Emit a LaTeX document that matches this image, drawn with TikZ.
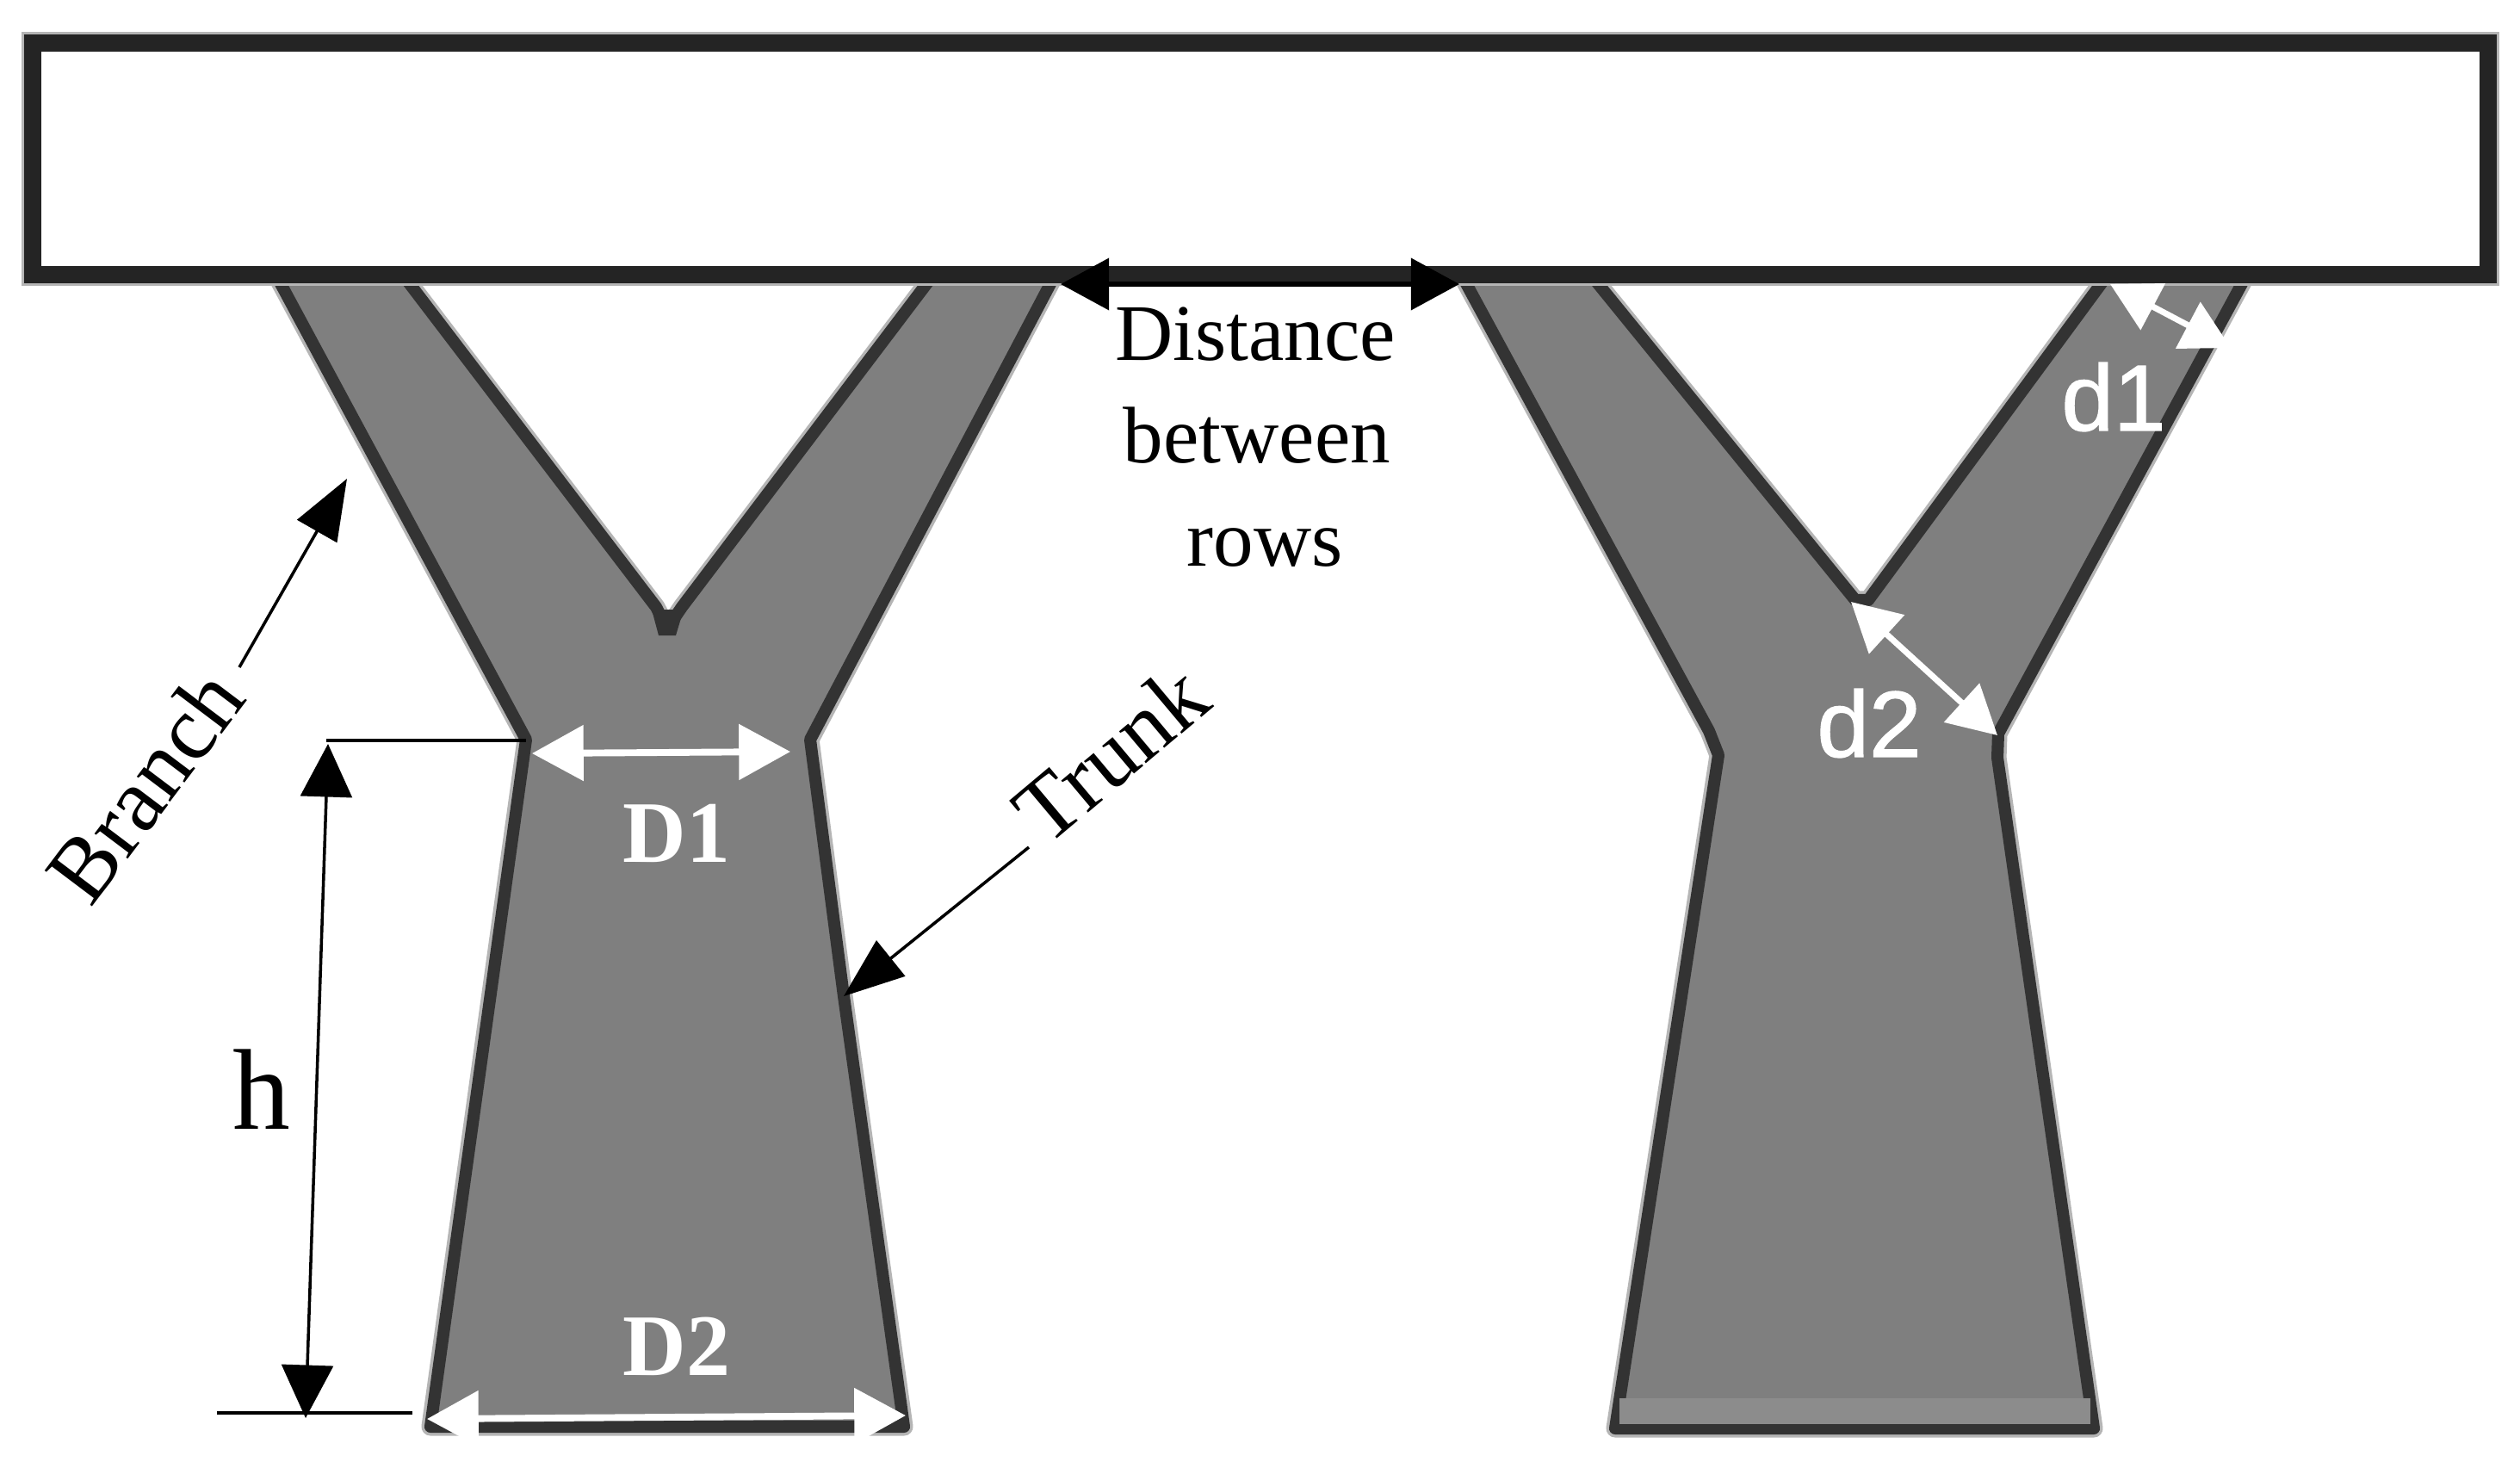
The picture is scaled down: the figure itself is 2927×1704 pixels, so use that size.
\documentclass[tikz,border=0pt]{standalone}
\usepackage{fontspec}
\setmainfont{Liberation Serif}
\newfontfamily\labelsans[FakeBold=1.2]{Liberation Sans}
\usetikzlibrary{arrows.meta}
\definecolor{treefill}{HTML}{7F7F7F}
\definecolor{treeedge}{HTML}{333333}
\definecolor{treehalo}{HTML}{B5B5B5}
\tikzset{
  x=0.02cm,y=-0.02cm,
  treeshape/.style={fill=treefill,draw=treeedge,line width=8pt,line join=round,
    preaction={draw=treehalo,line width=12pt,line join=round}},
  barshape/.style={fill=white,draw=treeedge!70!black,line width=11pt,line join=miter,
    preaction={draw=treehalo,line width=15pt}},
  blackdim/.style={draw=black,line width=2pt,{Triangle[length=35pt,width=34pt]}-{Triangle[length=35pt,width=34pt]}},
  distdim/.style={draw=black,line width=3pt,{Triangle[length=32pt,width=34pt]}-{Triangle[length=32pt,width=34pt]}},
  pointer/.style={draw=black,line width=2pt,-{Triangle[length=40pt,width=30pt]}},
  extline/.style={draw=black,line width=2.6pt},
  whitedim/.style={draw=white,line width=4.5pt,{Triangle[length=34pt,width=36pt]}-{Triangle[length=34pt,width=36pt]}},
  whitedimsmall/.style={draw=white,line width=4pt,{Triangle[length=32pt,width=34pt]}-{Triangle[length=32pt,width=34pt]}},
  serif label/.style={font=\fontsize{53}{60}\selectfont,text=black,inner sep=0pt},
  rot label/.style={font=\fontsize{60}{64}\selectfont,text=black,inner sep=0pt},
  white serif/.style={font=\fontsize{58}{60}\selectfont\bfseries,text=white,inner sep=0pt},
  white sans/.style={font=\labelsans\fontsize{62}{64}\selectfont,text=white,inner sep=0pt},
}
\begin{document}
\begin{tikzpicture}
\useasboundingbox (0,0) rectangle (2927,1704);
\fill[white] (0,0) rectangle (2927,1704);

% left tree
\path[treeshape] (322,322) -- (611,859) -- (500,1657)
  -- (1050,1657) -- (980,1157) -- (941,859) -- (1224,322) -- (1082,322)
  -- (792,705) -- (775,730) -- (762,705) -- (470,322) -- cycle;
\fill[treeedge] (757,708) -- (794,708) -- (785,738) -- (765,738) -- cycle;
% right tree
\path[treeshape] (1699,322) -- (1985,849) -- (1996,877) -- (1876,1659)
  -- (2432,1659) -- (2320,880) -- (2321,852) -- (2608,322) -- (2446,322)
  -- (2170,697) -- (2155,697) -- (1850,322) -- cycle;
\fill[treefill!90!white] (1881,1624) rectangle (2428,1654);

% top bar
\path[barshape] (38,50) rectangle (2890,319);

% anchor points
\coordinate (distL) at (1232,330);
\coordinate (distR) at (1695,330);
\coordinate (branchTail) at (278,775);
\coordinate (branchTip) at (403,556);
\coordinate (trunkTail) at (1195,984);
\coordinate (trunkTip) at (980,1157);
\coordinate (hTop) at (381,864);
\coordinate (hBot) at (355,1647);
\coordinate (extTopA) at (379,860);
\coordinate (extTopB) at (611,860);
\coordinate (extBotA) at (252,1641);
\coordinate (extBotB) at (479,1641);
\coordinate (dOneL) at (618,875);
\coordinate (dOneR) at (918,873);
\coordinate (dTwoL) at (496,1648);
\coordinate (dTwoR) at (1052,1644);
\coordinate (smallOneA) at (2451,330);
\coordinate (smallOneB) at (2591,404);
\coordinate (smallTwoA) at (2150,699);
\coordinate (smallTwoB) at (2320,854);

% connectors
\draw[distdim] (distL) -- (distR);
\draw[pointer] (branchTail) -- (branchTip);
\draw[pointer] (trunkTail) -- (trunkTip);
\draw[extline] (extTopA) -- (extTopB);
\draw[extline] (extBotA) -- (extBotB);
\draw[blackdim] (hTop) -- (hBot);
\draw[whitedim] (dOneL) -- (dOneR);
\draw[whitedim] (dTwoL) -- (dTwoR);
\draw[whitedimsmall] (smallOneA) -- (smallOneB);
\draw[whitedimsmall] (smallTwoA) -- (smallTwoB);

% labels
\node[serif label] (lblDist) at (1458,388) {Distance};
\node[serif label] (lblBetween) at (1460,506) {between};
\node[serif label] (lblRows) at (1469,636) {rows};
\node[rot label,rotate=53] (lblBranch) at (168,912) {Branch};
\node[rot label,rotate=40] (lblTrunk) at (1290,875) {Trunk};
\node[font=\fontsize{76}{80}\selectfont,inner sep=0pt] (lblH) at (304,1265) {h};
\node[white serif] (lblDOne) at (786,968) {D1};
\node[white serif] (lblDTwo) at (786,1564) {D2};
\node[white sans] (lblSOne) at (2455,461) {d1};
\node[white sans] (lblSTwo) at (2171,840) {d2};
\end{tikzpicture}
\end{document}
